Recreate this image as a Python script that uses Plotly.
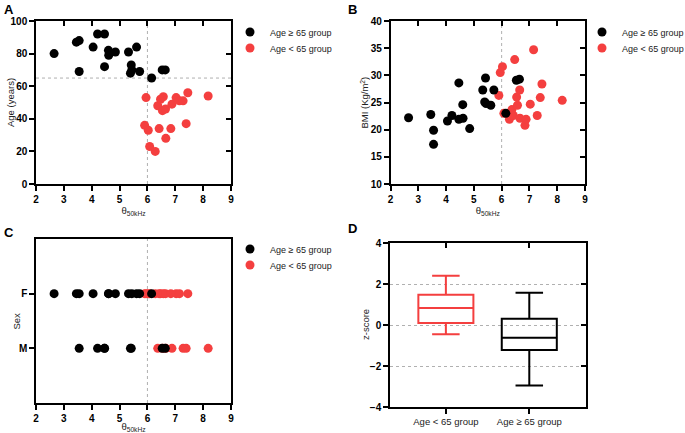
import plotly.graph_objects as go

W, H = 685, 433

# ---------------- data ----------------
group_labels = ["Age \u2265 65 group", "Age < 65 group"]

# Age >= 65 group (one entry per subject)
old_theta = [2.65, 3.45, 3.55, 3.55, 4.05, 4.21, 4.46, 4.46, 4.60, 4.61,
             4.85, 5.32, 5.42, 5.39, 5.44, 5.61, 5.72, 6.15, 6.53, 6.64]
old_age = [80, 87, 88, 69, 84, 92, 92, 72, 82, 79,
           81, 81, 73, 68, 70, 84, 69, 65, 70, 70]
old_bmi = [22.2, 22.8, 19.9, 17.3, 21.6, 22.6, 28.6, 21.9, 24.6, 22.1,
           20.2, 27.3, 29.5, 25.1, 24.8, 24.5, 27.3, 23.0, 29.1, 29.3]
old_sex = ["F", "F", "F", "M", "F", "M", "M", "M", "F", "F",
           "F", "F", "M", "M", "F", "F", "F", "F", "M", "M"]

# Age < 65 group
young_theta = [5.90, 5.95, 6.03, 6.08, 6.28, 6.37, 6.42, 6.47, 6.54, 6.57,
               6.65, 6.66, 6.84, 6.88, 7.03, 7.15, 7.28, 7.39, 7.45, 8.18]
young_age = [36, 53, 33, 23, 20, 48, 34, 52, 45, 53.5,
             46, 28, 34, 49, 53, 51, 51, 37, 56, 54]
young_bmi = [26.3, 30.5, 31.6, 23.0, 21.9, 23.7, 22.6, 32.9, 26.0, 24.5,
             27.3, 22.1, 20.8, 21.9, 24.7, 34.7, 22.6, 25.9, 28.4, 25.4]
young_sex = ["F", "F", "F", "F", "F", "M", "F", "F", "M", "F",
             "F", "M", "F", "M", "F", "F", "M", "M", "F", "M"]

# Panel D: z-score box summaries
box_categories = ["Age < 65 group", "Age \u2265 65 group"]
box_q1 = [0.10, -1.22]
box_median = [0.83, -0.62]
box_q3 = [1.47, 0.30]
box_low = [-0.45, -2.95]
box_high = [2.40, 1.57]

AGE_CUTOFF = 65
THETA_CUTOFF = 6

theta_ticks = [2, 3, 4, 5, 6, 7, 8, 9]
age_ticks = [0, 20, 40, 60, 80, 100]
bmi_ticks = [10, 15, 20, 25, 30, 35, 40]
z_ticks = [-4, -2, 0, 2, 4]
sex_categories = ["M", "F"]

# ---------------- style ----------------
BLACK = "#000000"
RED = "#f43f3f"
FONT = "Liberation Sans, Arial, sans-serif"
TICKFONT = dict(family=FONT, size=10, color="black", weight="bold")
TITLEFONT = dict(family=FONT, size=9.5, color="#222")
LW = 1.5


def px_x(p):
    return p / W


def px_y(p):
    return 1 - p / H


dom = {
    "A": ([px_x(36), px_x(231)], [px_y(184), px_y(21)]),
    "B": ([px_x(390.5), px_x(585)], [px_y(184), px_y(21)]),
    "C": ([px_x(36), px_x(231)], [px_y(403), px_y(239)]),
    "D": ([px_x(390), px_x(586)], [px_y(407), px_y(243)]),
}

fig = go.Figure()

panels = [("x", "y", old_age, young_age, "legend", "legend2"),
          ("x2", "y2", old_bmi, young_bmi, "legend3", "legend4"),
          ("x3", "y3", old_sex, young_sex, "legend5", "legend6")]

for xa, ya, oy, yy, lg1, lg2 in panels:
    fig.add_trace(go.Scatter(x=young_theta, y=yy, mode="markers", xaxis=xa, yaxis=ya,
                             name=group_labels[1], legend=lg2,
                             marker=dict(color=RED, size=9)))
    fig.add_trace(go.Scatter(x=old_theta, y=oy, mode="markers", xaxis=xa, yaxis=ya,
                             name=group_labels[0], legend=lg1,
                             marker=dict(color=BLACK, size=9)))

# Box plots (panel D)
box_colors = [RED, BLACK]
for i, cat in enumerate(box_categories):
    fig.add_trace(go.Box(x=[cat], q1=[box_q1[i]], median=[box_median[i]], q3=[box_q3[i]],
                         lowerfence=[box_low[i]], upperfence=[box_high[i]],
                         xaxis="x4", yaxis="y4", showlegend=False,
                         line=dict(color=box_colors[i], width=2),
                         fillcolor="rgba(0,0,0,0)", whiskerwidth=0.5, width=0.66,
                         boxpoints=False, hoverinfo="skip"))


def main_x(domain, anchor, rng, ticks, title=None):
    d = dict(domain=domain, anchor=anchor, range=rng, tickvals=ticks, automargin=False,
             showline=True, linecolor="black", linewidth=LW, mirror=True,
             ticks="outside", ticklen=5, tickwidth=LW, tickcolor="black",
             tickfont=TICKFONT, showgrid=False, zeroline=False, fixedrange=True)
    if title:
        d["title"] = dict(text=title, font=TITLEFONT, standoff=4)
    return d


def main_y(domain, anchor, rng, ticks):
    return dict(domain=domain, anchor=anchor, range=rng, tickvals=ticks, automargin=False,
                showline=True, linecolor="black", linewidth=LW, mirror=True,
                ticks="outside", ticklen=5, tickwidth=LW, tickcolor="black",
                tickfont=TICKFONT, showgrid=False, zeroline=False, fixedrange=True)


def inner_x(over, anchor, rng, ticks):
    return dict(overlaying=over, anchor=anchor, side="top", range=rng, tickvals=ticks,
                automargin=False, ticks="inside", ticklen=5, tickwidth=LW, tickcolor="black",
                showticklabels=False, showline=False, showgrid=False, zeroline=False)


def inner_y(over, anchor, rng, ticks):
    return dict(overlaying=over, anchor=anchor, side="right", range=rng, tickvals=ticks,
                automargin=False, ticks="inside", ticklen=5, tickwidth=LW, tickcolor="black",
                showticklabels=False, showline=False, showgrid=False, zeroline=False)


theta_title = "\u03b8<sub>50kHz</sub>"
trange = [2, 9]
layout = dict(
    xaxis=main_x(dom["A"][0], "y", trange, theta_ticks, theta_title),
    yaxis=main_y(dom["A"][1], "x", [0, 100], age_ticks),
    xaxis2=main_x(dom["B"][0], "y2", trange, theta_ticks, theta_title),
    yaxis2=main_y(dom["B"][1], "x2", [10, 40], bmi_ticks),
    xaxis3=main_x(dom["C"][0], "y3", trange, theta_ticks, theta_title),
    yaxis3=dict(main_y(dom["C"][1], "x3", [-1, 2], None),
                type="category", categoryarray=sex_categories, categoryorder="array"),
    xaxis4=dict(main_x(dom["D"][0], "y4", [-0.67, 1.68], None),
                type="category", categoryarray=box_categories, categoryorder="array",
                tickfont=dict(family=FONT, size=9.5, color="#222")),
    yaxis4=dict(main_y(dom["D"][1], "x4", [-4, 4], z_ticks),
                showgrid=True, gridcolor="#b0b0b0", griddash="dot", gridwidth=1),
    xaxis5=inner_x("x", "y", trange, theta_ticks),
    yaxis5=inner_y("y", "x", [0, 100], age_ticks),
    xaxis6=inner_x("x2", "y2", trange, theta_ticks),
    yaxis6=inner_y("y2", "x2", [10, 40], bmi_ticks),
    xaxis7=inner_x("x4", "y4", [-0.67, 1.68], [0, 1]),
    yaxis7=inner_y("y4", "x4", [-4, 4], z_ticks),
)
layout["yaxis3"].pop("tickvals", None)
layout["xaxis4"].pop("tickvals", None)

# empty helper traces so the tick-only overlay axes are drawn
for xa, ya in [("x5", "y"), ("x", "y5"), ("x6", "y2"), ("x2", "y6"), ("x7", "y4"), ("x4", "y7")]:
    fig.add_trace(go.Scatter(x=[None], y=[None], xaxis=xa, yaxis=ya, showlegend=False,
                             hoverinfo="skip", mode="markers"))


# legends: one item each for exact placement
def leg(mx, my):
    return dict(x=px_x(mx - 20), y=px_y(my), xanchor="left", yanchor="middle",
                bgcolor="rgba(0,0,0,0)", borderwidth=0,
                font=dict(family=FONT, size=9, color="#222"), itemwidth=30)


layout["legend"] = leg(250, 32)
layout["legend2"] = leg(250, 48)
layout["legend3"] = leg(602, 32)
layout["legend4"] = leg(602, 48)
layout["legend5"] = leg(250, 249)
layout["legend6"] = leg(250, 265)

shapes = []
for xa, ya in [("x", "y"), ("x2", "y2"), ("x3", "y3")]:
    shapes.append(dict(type="line", xref=xa, yref=ya + " domain", x0=THETA_CUTOFF, x1=THETA_CUTOFF,
                       y0=0, y1=1, line=dict(color="#b0b0b0", width=1, dash="dot"), layer="below"))
shapes.append(dict(type="line", xref="x domain", yref="y", x0=0, x1=1, y0=AGE_CUTOFF, y1=AGE_CUTOFF,
                   line=dict(color="#b0b0b0", width=1, dash="dot"), layer="below"))

annotations = []
for lab, (xx, yy) in {"A": (2, 9), "B": (346, 9), "C": (2, 232), "D": (346, 228)}.items():
    annotations.append(dict(text=lab, x=px_x(xx), y=px_y(yy), xref="paper", yref="paper",
                            xanchor="left", yanchor="middle", showarrow=False,
                            font=dict(family=FONT, size=13, color="black", weight="bold")))

# y-axis titles, placed beside each panel
y_titles = [("Age (years)", 10.5, 102.5), ("BMI (Kg/m<sup>2</sup>)", 365, 102.5),
            ("Sex", 15.5, 321), ("z-score", 365, 325)]
for txt, xx, yy in y_titles:
    annotations.append(dict(text=txt, x=px_x(xx), y=px_y(yy), xref="paper", yref="paper",
                            xanchor="center", yanchor="middle", textangle=-90, showarrow=False,
                            font=TITLEFONT))

fig.update_layout(**layout)
fig.update_layout(width=W, height=H, margin=dict(l=0, r=0, t=0, b=0, autoexpand=False),
                  paper_bgcolor="white", plot_bgcolor="white",
                  shapes=shapes, annotations=annotations, showlegend=True)

fig.write_html("out.html", config={"displayModeBar": False},
               post_script="document.body.style.margin='0';document.body.style.padding='0';")
